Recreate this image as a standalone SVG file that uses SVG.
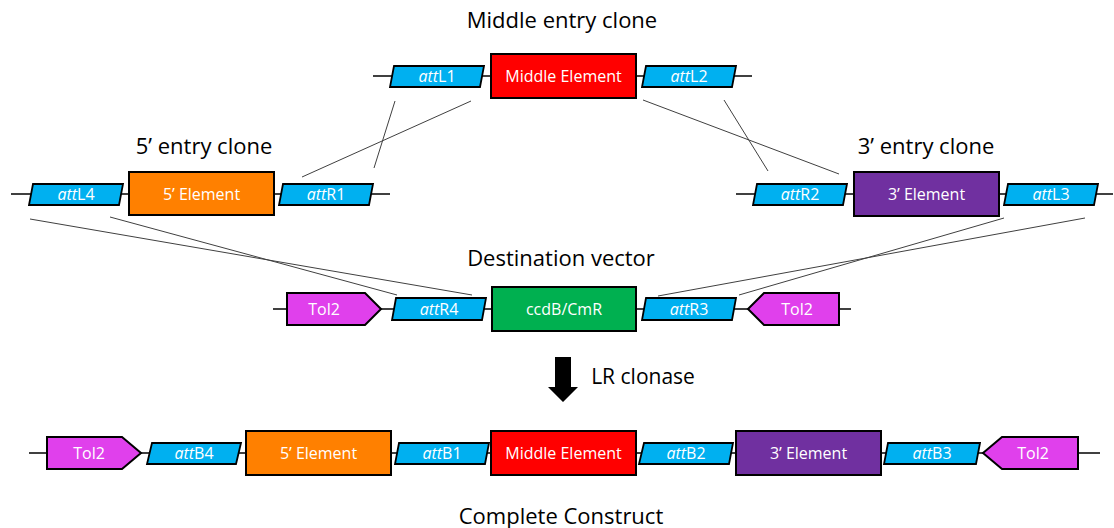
<svg xmlns="http://www.w3.org/2000/svg" width="1114" height="528" viewBox="0 0 1114 528">
<style>
.bb{stroke:#000;stroke-width:1.5;fill:none}
.cx{stroke:#404040;stroke-width:1;fill:none}
.att{fill:#00B0F0;stroke:#000;stroke-width:1.8}
.box{stroke:#000;stroke-width:2}
.t{font-family:"Open Sans","Liberation Sans",sans-serif;font-size:16px;fill:#fff;text-anchor:middle}
.h{font-family:"Open Sans","Liberation Sans",sans-serif;font-size:22px;fill:#000;text-anchor:middle}
.red{fill:#FF0000}.org{fill:#FF8000}.pur{fill:#7030A0}.grn{fill:#00B050}.tol{fill:#E040EC}
</style>
<g id="connectors">
<line class="bb" x1="373" y1="76" x2="752" y2="76"/>
<line class="bb" x1="11" y1="194" x2="390" y2="194"/>
<line class="bb" x1="736" y1="194" x2="1113" y2="194"/>
<line class="bb" x1="273" y1="309" x2="851" y2="309"/>
<line class="bb" x1="29" y1="453" x2="1100" y2="453"/>
<line class="cx" x1="471" y1="101" x2="302" y2="177"/>
<line class="cx" x1="395" y1="101" x2="374" y2="168"/>
<line class="cx" x1="643" y1="100" x2="839" y2="174"/>
<line class="cx" x1="724" y1="100" x2="768" y2="171"/>
<line class="cx" x1="30" y1="219" x2="472" y2="295"/>
<line class="cx" x1="110" y1="217" x2="397" y2="295"/>
<line class="cx" x1="1085" y1="218" x2="658" y2="296"/>
<line class="cx" x1="1004" y1="218" x2="739" y2="295"/>
</g>
<g id="titles">
<text class="h" x="562" y="28">Middle entry clone</text>
<text class="h" x="204" y="154">5’ entry clone</text>
<text class="h" x="926" y="154">3’ entry clone</text>
<text class="h" x="561" y="266">Destination vector</text>
<text class="h" x="561" y="524">Complete Construct</text>
</g>
<g id="attL1"><polygon class="att" points="394,66 484,66 480,87 390,87"/><text class="t" x="437" y="82"><tspan font-style="italic">att</tspan>L1</text></g>
<g id="middle1"><rect class="box red" x="491" y="54" width="145" height="44"/><text class="t" x="563.5" y="82">Middle Element</text></g>
<g id="attL2"><polygon class="att" points="646,66 736,66 732,87 642,87"/><text class="t" x="689" y="82"><tspan font-style="italic">att</tspan>L2</text></g>

<g id="attL4"><polygon class="att" points="33,184 123,184 119,205 29,205"/><text class="t" x="76" y="200"><tspan font-style="italic">att</tspan>L4</text></g>
<g id="five1"><rect class="box org" x="129" y="172" width="145" height="43"/><text class="t" x="201.5" y="199.5">5’ Element</text></g>
<g id="attR1"><polygon class="att" points="283,184 373,184 369,205 279,205"/><text class="t" x="326" y="200"><tspan font-style="italic">att</tspan>R1</text></g>

<g id="attR2"><polygon class="att" points="757,184 847,184 843,205 753,205"/><text class="t" x="800" y="200"><tspan font-style="italic">att</tspan>R2</text></g>
<g id="three1"><rect class="box pur" x="854" y="172" width="145" height="44"/><text class="t" x="926.5" y="200">3’ Element</text></g>
<g id="attL3"><polygon class="att" points="1008,184 1098,184 1094,205 1004,205"/><text class="t" x="1051" y="200"><tspan font-style="italic">att</tspan>L3</text></g>

<g id="tol2a"><polygon class="box tol" points="287,293 365,293 381,309 365,325 287,325"/><text class="t" x="324" y="315">Tol2</text></g>
<g id="attR4"><polygon class="att" points="396,298 486,298 482,320 392,320"/><text class="t" x="439" y="315"><tspan font-style="italic">att</tspan>R4</text></g>
<g id="ccdb"><rect class="box grn" x="492" y="287" width="144" height="44"/><text class="t" x="564" y="315">ccdB/CmR</text></g>
<g id="attR3"><polygon class="att" points="646,298 736,298 732,320 642,320"/><text class="t" x="689" y="315"><tspan font-style="italic">att</tspan>R3</text></g>
<g id="tol2b"><polygon class="box tol" points="748,309 764,293 839,293 839,325 764,325"/><text class="t" x="797" y="315">Tol2</text></g>

<g id="arrow"><polygon fill="#000" points="555,357 571,357 571,387 578,387 563,402 548,387 555,387"/><text class="h" x="643" y="384" style="font-size:21px">LR clonase</text></g>

<g id="tol2c"><polygon class="box tol" points="47,437 122,437 141,453 122,469 47,469"/><text class="t" x="89" y="459">Tol2</text></g>
<g id="attB4"><polygon class="att" points="152,443 241,443 236,464 147,464"/><text class="t" x="194" y="459"><tspan font-style="italic">att</tspan>B4</text></g>
<g id="five2"><rect class="box org" x="246" y="431" width="145" height="44"/><text class="t" x="318.5" y="459">5’ Element</text></g>
<g id="attB1"><polygon class="att" points="399,443 489,443 485,464 395,464"/><text class="t" x="442" y="459"><tspan font-style="italic">att</tspan>B1</text></g>
<g id="middle2"><rect class="box red" x="491" y="431" width="145" height="44"/><text class="t" x="563.5" y="459">Middle Element</text></g>
<g id="attB2"><polygon class="att" points="644,443 733,443 729,464 639,464"/><text class="t" x="686" y="459"><tspan font-style="italic">att</tspan>B2</text></g>
<g id="three2"><rect class="box pur" x="736" y="431" width="145" height="44"/><text class="t" x="808.5" y="459">3’ Element</text></g>
<g id="attB3"><polygon class="att" points="888,443 980,443 976,464 884,464"/><text class="t" x="932" y="459"><tspan font-style="italic">att</tspan>B3</text></g>
<g id="tol2d"><polygon class="box tol" points="983,453 1002,437 1078,437 1078,469 1002,469"/><text class="t" x="1033" y="459">Tol2</text></g>
</svg>
